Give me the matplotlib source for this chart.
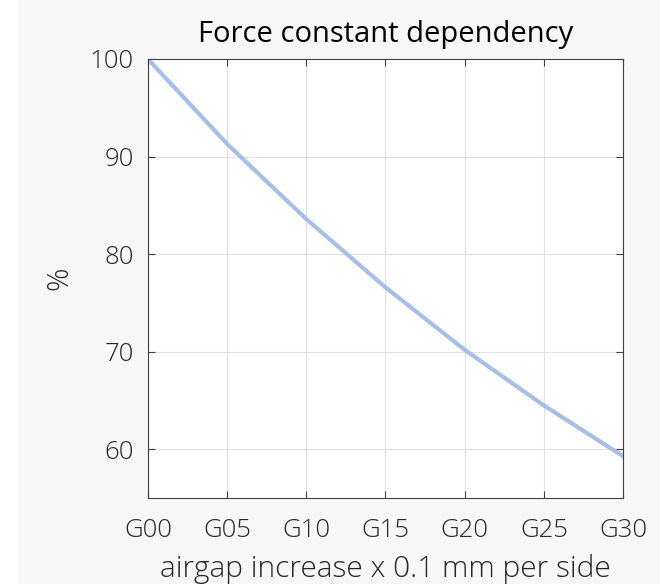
import matplotlib
matplotlib.use('Agg')
from matplotlib import pyplot as plt
from matplotlib.patches import Rectangle

gap = [0, 5, 10, 15, 20, 25, 30]
force = [100, 91.3, 83.6, 76.6, 70.2, 64.5, 59.3]
xlabels = ['G00', 'G05', 'G10', 'G15', 'G20', 'G25', 'G30']
yticks = [60, 70, 80, 90, 100]

plt.rcParams['font.family'] = ['Open Sans', 'DejaVu Sans']

fig = plt.figure(figsize=(6.6, 5.84), dpi=100, facecolor='white')
# grey panel, white strip on the left edge
fig.patches.append(Rectangle((18 / 660, 0), 1, 1, transform=fig.transFigure,
                             facecolor='#f7f7f7', edgecolor='none', zorder=-10))
ax = fig.add_axes([0.224, 0.147, 0.72, 0.752])
ax.set_facecolor('white')

ax.plot(gap, force, color='#a6bee8', lw=3)

ax.set_xlim(0, 30)
ax.set_ylim(55, 100)
ax.set_xticks(gap)
ax.set_xticklabels(xlabels)
ax.set_yticks(yticks)
ax.grid(True, color='#e0e0e0', lw=0.8)
ax.tick_params(direction='in', length=5, color='#404040', labelcolor='#262626',
               labelsize=18.5, top=True, right=True)
ax.tick_params(axis='x', pad=14)
ax.tick_params(axis='y', pad=10)
for lab in ax.get_xticklabels() + ax.get_yticklabels():
    lab.set_fontweight('light')
for s in ax.spines.values():
    s.set_color('#404040')

ax.set_title('Force constant dependency', fontsize=21, color='black', pad=12)
ax.set_xlabel('airgap increase x 0.1 mm per side', fontsize=21.5, fontweight='light',
              color='#262626', labelpad=8)
ax.set_ylabel('%', fontsize=21, fontweight='light', color='#262626', labelpad=11)

fig.savefig('out.png', dpi=100, facecolor=fig.get_facecolor())
